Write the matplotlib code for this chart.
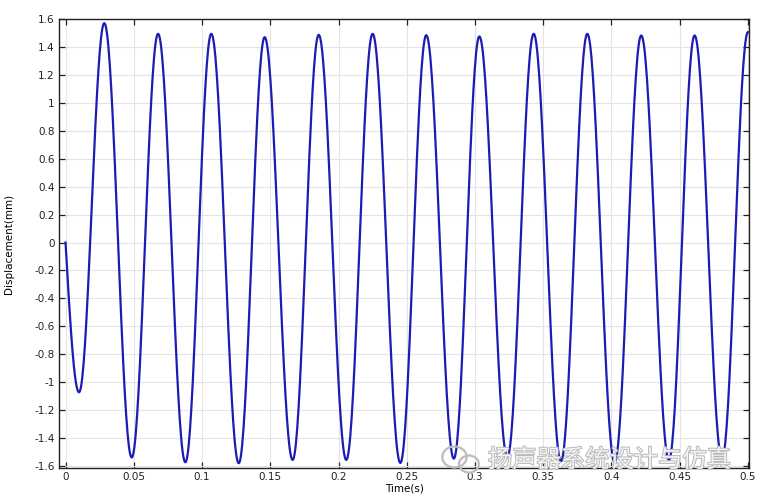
import numpy as np
import matplotlib.pyplot as plt
import matplotlib.patheffects as pe
from matplotlib.patches import Ellipse

plt.rcParams["axes.unicode_minus"] = False

# extrema of the displacement curve (time s, displacement mm)
ext_t = [0.0, 0.0099, 0.0284, 0.0485, 0.0678, 0.0878, 0.1068, 0.1269, 0.1459,
         0.1664, 0.1855, 0.2057, 0.2250, 0.2453, 0.2643, 0.2845, 0.3032,
         0.3237, 0.3430, 0.3630, 0.3823, 0.4023, 0.4218, 0.4421, 0.4609,
         0.4810, 0.5000]
ext_v = [0.0, -1.074, 1.573, -1.542, 1.497, -1.576, 1.497, -1.583, 1.473,
         -1.559, 1.490, -1.559, 1.497, -1.581, 1.487, -1.55, 1.478,
         -1.54, 1.497, -1.569, 1.497, -1.576, 1.485, -1.559, 1.485,
         -1.552, 1.509]

x_ticks = [0, 0.05, 0.1, 0.15, 0.2, 0.25, 0.3, 0.35, 0.4, 0.45, 0.5]
y_ticks = [-1.6, -1.4, -1.2, -1, -0.8, -0.6, -0.4, -0.2, 0, 0.2, 0.4,
           0.6, 0.8, 1, 1.2, 1.4, 1.6]


def build_curve(ts, vs, n=40):
    # join the extrema with smooth half-cosine swings
    t_all, v_all = [], []
    for i in range(len(ts) - 1):
        s = np.linspace(0, 1, n)
        t = ts[i] + (ts[i + 1] - ts[i]) * s
        if i == 0:
            v = vs[i] + (vs[i + 1] - vs[i]) * np.sin(np.pi / 2 * s)
        else:
            v = vs[i] + (vs[i + 1] - vs[i]) * (1 - np.cos(np.pi * s)) / 2
        if i > 0:
            t, v = t[1:], v[1:]
        t_all.append(t)
        v_all.append(v)
    return np.concatenate(t_all), np.concatenate(v_all)


def main():
    t, v = build_curve(ext_t, ext_v)

    fig = plt.figure(figsize=(7.6, 5), dpi=100)
    ax = fig.add_axes([0.0776, 0.064, 0.908, 0.898])

    ax.plot(t, v, color="#1c1cb4", lw=1.6, zorder=3)

    ax.set_xlim(-0.0048, 0.5008)
    ax.set_ylim(-1.617, 1.603)
    ax.set_xticks(x_ticks)
    ax.set_yticks(y_ticks)
    ax.set_xticklabels(["%g" % x for x in x_ticks])
    ax.set_yticklabels(["%g" % y for y in y_ticks])
    ax.tick_params(direction="in", length=4, width=0.9, labelsize=7.5,
                   top=True, right=True, colors="#222222", pad=3)
    ax.grid(True, color="#e4e4e4", lw=0.8)
    for sp in ax.spines.values():
        sp.set_color("#222222")
        sp.set_linewidth(1.0)

    ax.set_xlabel("Time(s)", fontsize=7.5, labelpad=1)
    ax.set_ylabel("Displacement(mm)", fontsize=7.5, labelpad=15)

    # watermark (outlined grey text + chat bubbles)
    wm = fig.text(0.642, 0.080, "扬声器系统设计与仿真", fontsize=17.5,
                  family=["Noto Sans CJK SC", "DejaVu Sans"], color="#f2f2f2",
                  va="center", ha="left", zorder=5)
    wm.set_path_effects([pe.Stroke(linewidth=1.3, foreground="#b4b4b4"),
                         pe.Normal()])
    fig.patches.append(Ellipse((0.598, 0.086), 0.032, 0.042, fill=False,
                               ec="#bdbdbd", lw=1.6, transform=fig.transFigure))
    fig.patches.append(Ellipse((0.617, 0.072), 0.026, 0.034, fill=False,
                               ec="#bdbdbd", lw=1.6, transform=fig.transFigure))

    fig.savefig("out.png", dpi=100)


if __name__ == "__main__":
    main()
